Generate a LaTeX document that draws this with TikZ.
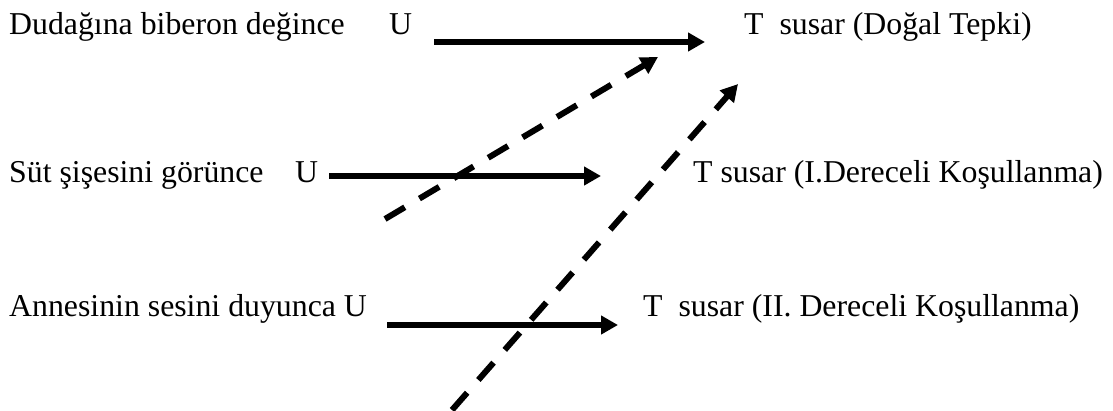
\documentclass[tikz,border=0pt]{standalone}
\usepackage{fontspec}
\setmainfont{Liberation Serif}
\usetikzlibrary{arrows.meta}
\begin{document}
\begin{tikzpicture}[x=1pt,y=-1pt,
  lbl/.style={anchor=base west,inner sep=0pt,font=\fontsize{31.8}{38}\selectfont},
  solidarrow/.style={line width=6.5pt,-{Triangle[length=17pt,width=18pt]}},
  dasharrow/.style={line width=6pt,dash pattern=on 23pt off 17pt,-{Triangle[length=17pt,width=18pt]}}]
\useasboundingbox (0,0) rectangle (1113,410);
% row 1: natural response
\node[lbl] (s1) at (9,34) {Dudağına biberon değince};
\node[lbl] (u1) at (389,34) {U};
\node[lbl] (t1) at (744,34) {T\ \ susar (Doğal Tepki)};
% row 2: first-order conditioning
\node[lbl] (s2) at (9,182) {Süt şişesini görünce};
\node[lbl] (u2) at (295,182) {U};
\node[lbl] (t2) at (693,182) {T susar (I.Dereceli Koşullanma)};
% row 3: second-order conditioning
\node[lbl] (s3) at (9,316) {Annesinin sesini duyunca U};
\node[lbl] (t3) at (643,316) {T\ \ susar (II. Dereceli Koşullanma)};
% arrow end points
\coordinate (a1) at (434,42);
\coordinate (b1) at (705,42);
\coordinate (a2) at (329,176);
\coordinate (b2) at (601,176);
\coordinate (a3) at (387,325);
\coordinate (b3) at (618,325);
\coordinate (d1) at (385,219);
\coordinate (e1) at (658,57);
\coordinate (d2) at (452,410);
\coordinate (e2) at (738,84);
\draw[solidarrow] (a1) -- (b1);
\draw[solidarrow] (a2) -- (b2);
\draw[solidarrow] (a3) -- (b3);
\draw[dasharrow] (d1) -- (e1);
\draw[dasharrow] (d2) -- (e2);
\end{tikzpicture}
\end{document}
